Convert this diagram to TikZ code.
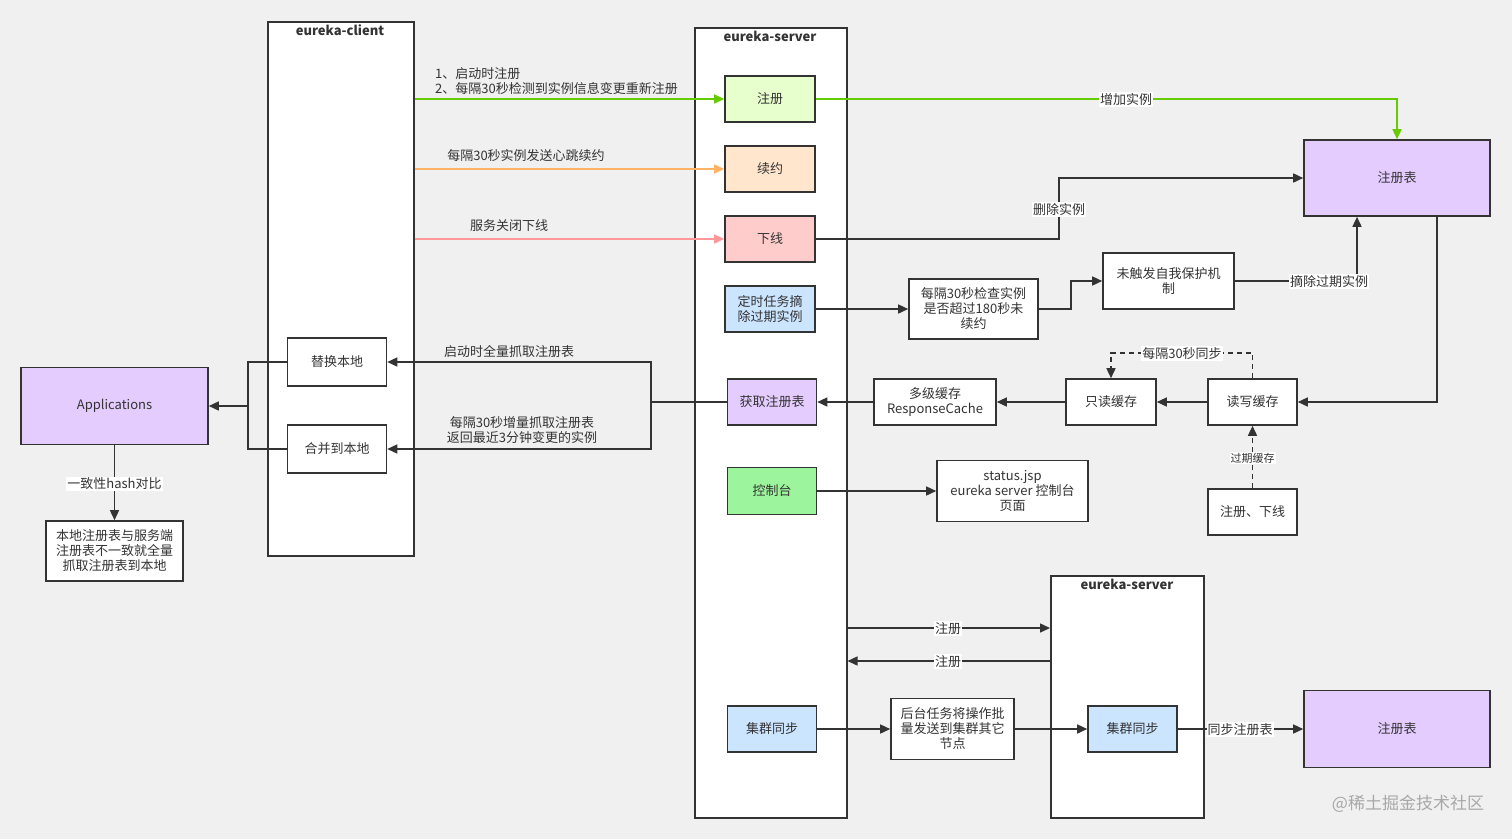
\documentclass[tikz,border=0pt]{standalone}
\usepackage{fontspec}
\setmainfont{Noto Sans CJK SC}
\usetikzlibrary{arrows.meta}
\definecolor{bg}{HTML}{F0F0F0}
\definecolor{ln}{HTML}{333333}
\definecolor{tx}{HTML}{333333}
\definecolor{lgreen}{HTML}{66CC00}
\definecolor{lorange}{HTML}{FFB366}
\definecolor{lpink}{HTML}{FF9999}
\definecolor{fgreen}{HTML}{E6FFCC}
\definecolor{forange}{HTML}{FFE6CC}
\definecolor{fpink}{HTML}{FFCCCC}
\definecolor{fblue}{HTML}{CCE5FF}
\definecolor{fpurple}{HTML}{E5CCFF}
\definecolor{fconsole}{HTML}{9CF59C}
\definecolor{wm}{HTML}{A8A8A8}
\newcommand\myfs{\fontsize{13}{15}\selectfont}
\newcommand\myfl{\fontsize{13}{15}\selectfont}
\newcommand\myfsm{\fontsize{11}{13}\selectfont}
\begin{document}
\begin{tikzpicture}[x=1pt,y=-1pt,line join=miter,
  box/.style={draw=ln,line width=1.6pt,fill=white,text=tx,align=center,font=\myfs,inner sep=1pt},
  cont/.style={draw=ln,line width=1.5pt,fill=white,inner sep=0pt,anchor=north west},
  ttl/.style={font=\myfs\bfseries,text=tx,inner sep=0pt},
  conn/.style={draw=ln,line width=1.5pt,-{Triangle[length=10pt,width=9pt]}},
  plainln/.style={draw=ln,line width=1.5pt},
  lbl/.style={fill=white,inner sep=1pt,text=tx,font=\myfl},
  plain/.style={text=tx,font=\myfl,inner sep=0pt,align=center}
]
\fill[bg] (0,0) rectangle (1512,839);
\useasboundingbox (0,0) rectangle (1512,839);

% containers
\node[cont,minimum width=146pt,minimum height=534pt] (client) at (267,21) {};
\node[ttl] (clientT) at (340,30) {eureka-client};
\node[cont,minimum width=152pt,minimum height=790pt] (server) at (694,27) {};
\node[ttl] (serverT) at (770,36) {eureka-server};
\node[cont,minimum width=153pt,minimum height=242pt] (server2) at (1050,575) {};
\node[ttl] (server2T) at (1127,584) {eureka-server};

% server boxes
\node[box,fill=fgreen,minimum width=90pt,minimum height=46pt] (zc) at (770,99) {注册};
\node[box,fill=forange,minimum width=90pt,minimum height=46pt] (xy) at (770,169) {续约};
\node[box,fill=fpink,minimum width=90pt,minimum height=46pt] (xx) at (770,239) {下线};
\node[box,fill=fblue,minimum width=90pt,minimum height=46pt] (ds) at (770,309) {定时任务摘\\除过期实例};
\node[box,fill=fpurple,minimum width=89pt,minimum height=46pt] (hq) at (772,402) {获取注册表};
\node[box,fill=fconsole,minimum width=89pt,minimum height=47pt] (kz) at (772,491) {控制台};
\node[box,fill=fblue,minimum width=89pt,minimum height=46pt] (jq) at (772,729) {集群同步};

% client boxes
\node[box,minimum width=99pt,minimum height=48pt] (th) at (337,362) {替换本地};
\node[box,minimum width=99pt,minimum height=48pt] (hb) at (337,449) {合并到本地};
\node[box,fill=fpurple,minimum width=187pt,minimum height=77pt] (app) at (114.5,406) {Applications};
\node[box,minimum width=137pt,minimum height=60pt] (bd) at (114.5,551) {本地注册表与服务端\\注册表不一致就全量\\抓取注册表到本地};

% right side
\node[box,fill=fpurple,minimum width=186pt,minimum height=76pt] (reg1) at (1397,178) {注册表};
\node[box,minimum width=129pt,minimum height=60pt] (jc) at (973.5,309) {每隔30秒检查实例\\是否超过180秒未\\续约};
\node[box,minimum width=131pt,minimum height=56pt] (wc) at (1168.5,281) {未触发自我保护机\\制};
\node[box,minimum width=122pt,minimum height=46pt] (dj) at (935,402) {多级缓存\\ResponseCache};
\node[box,minimum width=90pt,minimum height=46pt] (zd) at (1111,402) {只读缓存};
\node[box,minimum width=89pt,minimum height=46pt] (dx) at (1252.5,402) {读写缓存};
\node[box,minimum width=89pt,minimum height=46pt] (zx) at (1252.5,512) {注册、下线};
\node[box,minimum width=151pt,minimum height=61pt] (st) at (1012.5,491) {status.jsp\\eureka server 控制台\\页面};
\node[box,minimum width=123pt,minimum height=61pt] (ht) at (952.5,729) {后台任务将操作批\\量发送到集群其它\\节点};
\node[box,fill=fblue,minimum width=89pt,minimum height=46pt] (jq2) at (1132.5,729) {集群同步};
\node[box,fill=fpurple,minimum width=186pt,minimum height=77pt] (reg2) at (1397,729) {注册表};

% client -> server
\draw[conn,draw=lgreen,-{Triangle[length=10pt,width=9pt,fill=lgreen]}] (client.east |- zc.west) -- (zc.west);
\node[plain,align=left,anchor=west] (l1) at (435,81) {1、启动时注册\\2、每隔30秒检测到实例信息变更重新注册};
\draw[conn,draw=lorange,-{Triangle[length=10pt,width=9pt,fill=lorange]}] (client.east |- xy.west) -- (xy.west);
\node[plain] (l2) at (526,155.5) {每隔30秒实例发送心跳续约};
\draw[conn,draw=lpink,-{Triangle[length=10pt,width=9pt,fill=lpink]}] (client.east |- xx.west) -- (xx.west);
\node[plain] (l3) at (509,225.5) {服务关闭下线};

% server -> registry
\draw[conn,draw=lgreen,-{Triangle[length=10pt,width=9pt,fill=lgreen]}] (zc.east) -| (reg1.north);
\node[lbl] (l4) at (1126,99.5) {增加实例};
\draw[conn] (xx.east) -- (1059,239) -- (1059,178) -- (reg1.west);
\node[lbl] (l5) at (1059,209.5) {删除实例};
\draw[conn] (ds.east) -- (jc.west);
\draw[conn] (jc.east) -- (1071,309) -- (1071,281) -- (wc.west);
\draw[conn] (wc.east) -- (1357,281) -- (1357,216.8);
\node[lbl] (l6) at (1329,281.5) {摘除过期实例};
\draw[conn] (1437,216.8) -- (1437,402) -- (dx.east);
\draw[conn] (dx.west) -- (zd.east);
\draw[conn,dash pattern=on 5pt off 4pt] (dx.north) -- (1252.5,353) -- (1111,353) -- (zd.north);
\node[lbl] (l7) at (1182,353.5) {每隔30秒同步};
\draw[conn,dash pattern=on 5pt off 4pt] (zx.north) -- (dx.south);
\node[lbl,font=\myfsm] (l8) at (1252.5,458) {过期缓存};
\draw[conn] (zd.west) -- (dj.east);
\draw[conn] (dj.west) -- (hq.east);

% fetch registry -> client
\draw[plainln] (hq.west) -- (651,402);
\draw[conn] (651,402) -- (651,362) -- (th.east);
\draw[conn] (651,402) -- (651,449) -- (hb.east);
\node[plain] (l9) at (509,351.5) {启动时全量抓取注册表};
\node[plain] (l10) at (522,430) {每隔30秒增量抓取注册表\\返回最近3分钟变更的实例};

% client -> applications
\draw[plainln] (th.west) -- (248,362) -- (248,449) -- (hb.west);
\draw[conn] (248,406) -- (app.east);
\draw[conn] (app.south) -- (bd.north);
\node[lbl] (l11) at (114.5,483.5) {一致性hash对比};

% console
\draw[conn] (kz.east) -- (st.west);

% cluster
\draw[conn] (server.east |- 0,628) -- (server2.west |- 0,628);
\node[lbl] (l12) at (948,628.5) {注册};
\draw[conn] (server2.west |- 0,661) -- (server.east |- 0,661);
\node[lbl] (l13) at (948,661.5) {注册};
\draw[conn] (jq.east) -- (ht.west);
\draw[conn] (ht.east) -- (jq2.west);
\draw[conn] (jq2.east) -- (reg2.west);
\node[lbl] (l14) at (1240,729.5) {同步注册表};

% watermark
\node[text=wm,font=\fontsize{17}{19}\selectfont,inner sep=0pt] (wmk) at (1408,804) {@稀土掘金技术社区};
\end{tikzpicture}
\end{document}
